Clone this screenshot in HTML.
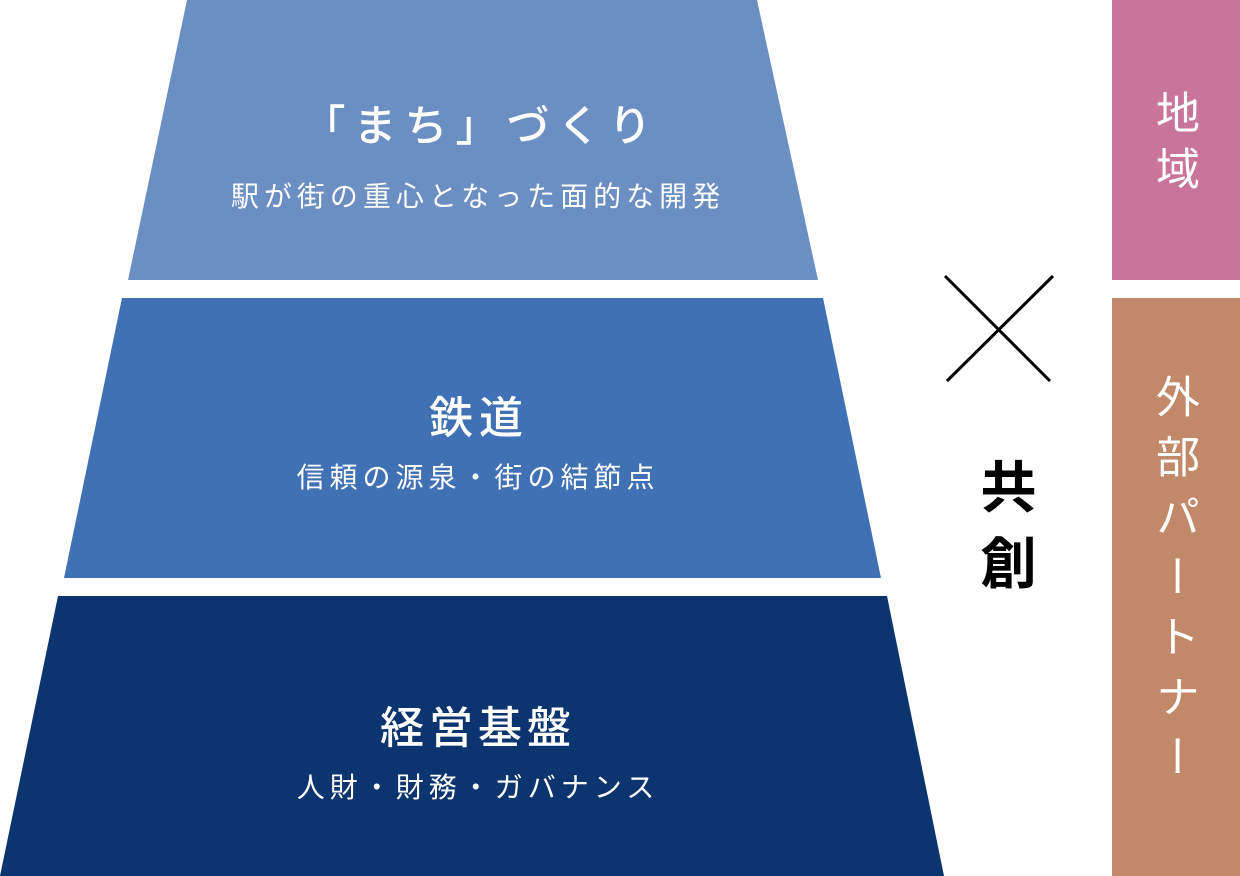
<!DOCTYPE html>
<html><head><meta charset="utf-8"><style>
html,body{margin:0;padding:0;background:#fff;}
body{width:1240px;height:876px;position:relative;overflow:hidden;font-family:"Liberation Sans","Noto Sans CJK JP",sans-serif;}
.t{position:absolute;color:#fff;text-align:center;white-space:nowrap;}
.v{position:absolute;writing-mode:vertical-rl;text-orientation:upright;white-space:nowrap;}
</style></head><body>
<svg width="1240" height="876" style="position:absolute;left:0;top:0">
<polygon points="187,0 757,0 818,280 128,280" fill="#6b8fc3"/>
<polygon points="122,298 823,298 881,578 64,578" fill="#3f71b4"/>
<polygon points="58,596 887,596 944,876 0,876" fill="#0c346e"/>
<rect x="1112" y="0" width="128" height="280" fill="#c97599"/>
<rect x="1112" y="298" width="128" height="578" fill="#c2886a"/>
<line x1="945" y1="276" x2="1050" y2="381" stroke="#000" stroke-width="3"/>
<line x1="1053" y1="276" x2="947" y2="381" stroke="#000" stroke-width="3"/>
</svg>
<div class="t" style="left:173px;width:600px;top:92px;font-size:43px;letter-spacing:8px;padding-left:8px;font-weight:500;">「まち」づくり</div>
<div class="t" style="left:173px;width:600px;top:175px;font-size:28px;letter-spacing:5px;padding-left:5px;">駅が街の重心となった面的な開発</div>
<div class="t" style="left:173px;width:600px;top:382px;font-size:44px;letter-spacing:6px;padding-left:6px;font-weight:500;">鉄道</div>
<div class="t" style="left:173px;width:600px;top:456px;font-size:28px;letter-spacing:5px;padding-left:5px;">信頼の源泉・街の結節点</div>
<div class="t" style="left:173px;width:600px;top:692px;font-size:44px;letter-spacing:5px;padding-left:5px;font-weight:500;">経営基盤</div>
<div class="t" style="left:173px;width:600px;top:766px;font-size:28px;letter-spacing:5px;padding-left:5px;">人財・財務・ガバナンス</div>
<div class="v" style="left:972px;top:458px;font-size:56px;line-height:64px;letter-spacing:20px;color:#000;font-weight:bold;">共創</div>
<div class="v" style="left:1148px;top:90px;font-size:44px;line-height:50px;letter-spacing:12px;color:#fff;">地域</div>
<div class="v" style="left:1148px;top:374px;font-size:44px;line-height:50px;letter-spacing:16px;color:#fff;">外部パートナー</div>
</body></html>
